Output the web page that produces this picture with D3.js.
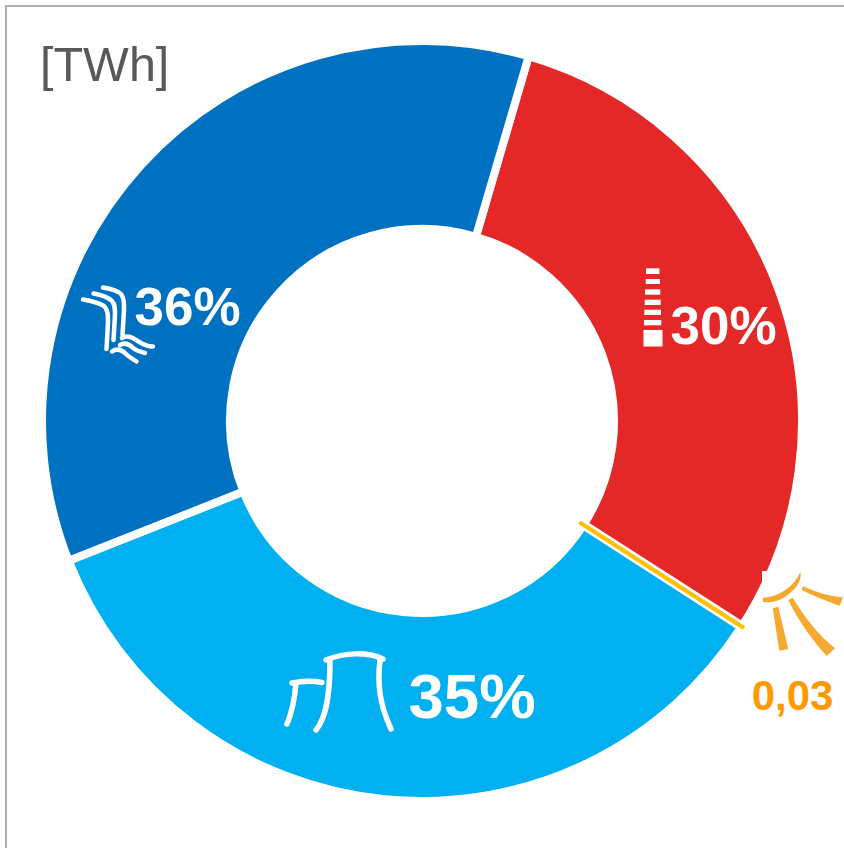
<!DOCTYPE html>
<html><head><meta charset="utf-8">
<script src="https://cdn.jsdelivr.net/npm/d3@7"></script>
<style>html,body{margin:0;padding:0;background:#fff;overflow:hidden}svg{display:block}text{font-family:"Liberation Sans",Arial,sans-serif}</style>
</head><body><svg id="c" width="844" height="848"></svg>
<script>
const categories = ["Wind", "Solar", "Nuclear", "Hydro"];
const values = [29.55, 0.03, 34.9, 35.52];
const colors = ["#E42828", "#FFC000", "#00B0F0", "#0070C0"];
const percentLabels = ["30%", null, "35%", "36%"];
const unitLabel = "[TWh]";
const solarLabel = "0,03";

const W = 844, H = 848, cx = 422, cy = 421, rO = 380, rI = 192;
const svg = d3.select("#c");

// frame
svg.append("path").attr("d", `M6,${H}V6H${W}`).attr("fill", "none").attr("stroke", "#B0B0B0").attr("stroke-width", 2);

const start = 16.3 * Math.PI / 180;
const pie = d3.pie().value(d => d).sort(null).startAngle(start).endAngle(start + 2 * Math.PI);
const arcs = pie(values);
const ring = d3.arc().innerRadius(rI).outerRadius(rO);
const solarLine = d3.arc().innerRadius(189).outerRadius(381);
const g = svg.append("g").attr("transform", `translate(${cx},${cy})`);

g.selectAll("path.slice").data(arcs.filter((d, i) => i !== 1)).join("path")
  .attr("class", "slice")
  .attr("d", ring)
  .attr("fill", d => colors[d.index])
  .attr("stroke", "#fff").attr("stroke-width", 8).attr("stroke-linejoin", "miter");

// thin solar slice: a white margin with the coloured sliver on top
const s = arcs[1];
g.append("path").attr("d", ring(s)).attr("fill", "#fff").attr("stroke", "#fff").attr("stroke-width", 9);
g.append("path").attr("d", solarLine(s)).attr("fill", colors[1])
  .attr("stroke", colors[1]).attr("stroke-width", 3.6);

// white icon backing for the sun symbol
svg.append("rect").attr("x", 762).attr("y", 571).attr("width", 82).attr("height", 86).attr("fill", "#fff");

// icons
const white = svg.append("g").attr("fill", "none").attr("stroke", "#fff").attr("stroke-linecap", "round").attr("stroke-linejoin", "round");
[
 "M103,287.5 C112,289 118,291 121,294 C124,298 124,302 124,310 L122.5,335",
 "M93.5,293.5 C102,295 108,297 112,301 C115,304 115,309 115,315 L113.5,340",
 "M83,299.5 C92,301 99,303 104,306 C108,310 108,315 108,322 L106.5,349",
 "M122,338 C127,335 132,337 136,340 C141,343 146,347 153,346.5",
 "M120,345 C125,342 130,345 133,348 C137,351 141,352 145,353",
 "M112,351.5 C117,348 122,350 126,354 C129,357 133,359 136.5,361.5"
].forEach(d => white.append("path").attr("d", d).attr("stroke-width", 4.5));

[
 "M316,730 C326,718 330,696 330,660",
 "M326,660 C345,652 368,652 383,659",
 "M380,660 C377,685 380,705 391,729",
 "M287,724 C293,710 295,695 296,683",
 "M292,683 C302,681 314,681 322,682.5"
].forEach(d => white.append("path").attr("d", d).attr("stroke-width", 5.5));

[[646,268.3,13.4,5.7],[645.7,279,14.3,5],[645,289.3,15.3,5.4],[644.7,299.7,16,5.3],[644.3,309.7,16.7,5.3],[644,320,17.3,5.3]]
 .forEach(r => svg.append("rect").attr("x", r[0]).attr("y", r[1]).attr("width", r[2]).attr("height", r[3]).attr("fill", "#fff"));
svg.append("rect").attr("x", 643.5).attr("y", 330).attr("width", 19).attr("height", 16.5).attr("fill", "#fff");

// sun symbol
[
 "M762.7,598 C775,597 790,590 797,578 L800.5,572 C802,582 795,590 785,597 C777,602 768,603 763,602 Z",
 "M803,586 C815,592 828,596 842.7,597.3 L840,605.7 C826,601 812,595 801.7,590 Z",
 "M788.3,600 L792.7,597.7 C803,615 818,635 835,648.3 L826.7,656 C812,640 798,620 788.3,600 Z",
 "M772.7,608.3 L778.3,606.7 L788.3,649 L779.3,650.7 Z"
].forEach(d => svg.append("path").attr("d", d).attr("fill", "#F5A92F"));

// labels
const labelPos = [[670.5, 344, 53], null, [408.5, 718, 63.5], [134.5, 325, 53]];
percentLabels.forEach((t, i) => {
  if (!t) return;
  svg.append("text").attr("x", labelPos[i][0]).attr("y", labelPos[i][1])
    .attr("font-size", labelPos[i][2]).attr("font-weight", "bold").attr("fill", "#fff").text(t);
});
svg.append("text").attr("x", 792.5).attr("y", 710).attr("text-anchor", "middle")
  .attr("font-size", 42).attr("font-weight", "bold").attr("fill", "#FF9900").text(solarLabel);
svg.append("text").attr("x", 40).attr("y", 81).attr("font-size", 48.5).attr("fill", "#58595B").text(unitLabel);
</script></body></html>
